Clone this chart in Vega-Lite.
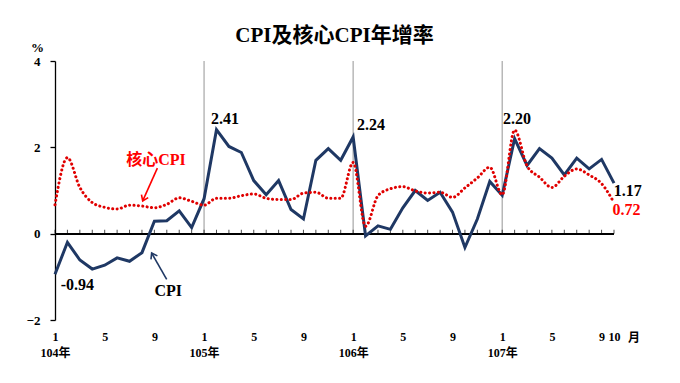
{
  "$schema": "https://vega.github.io/schema/vega-lite/v6.json",
  "autosize": "none",
  "width": 559,
  "height": 259,
  "padding": {"left": 55, "top": 61, "right": 66, "bottom": 63},
  "background": "white",
  "title": {
    "text": "CPI及核心CPI年增率",
    "font": "Liberation Serif, Noto Sans CJK TC",
    "fontSize": 21,
    "fontWeight": "bold",
    "color": "black",
    "anchor": "middle",
    "frame": "group",
    "baseline": "alphabetic",
    "offset": -22
  },
  "config": {
    "view": {"stroke": null},
    "font": "Liberation Serif, Noto Sans CJK TC"
  },
  "datasets": {
    "main": [
      {"t": 0, "year": 104, "month": 1, "cpi": -0.94, "core": 0.67},
      {"t": 1, "year": 104, "month": 2, "cpi": -0.20, "core": 1.76},
      {"t": 2, "year": 104, "month": 3, "cpi": -0.61, "core": 1.07},
      {"t": 3, "year": 104, "month": 4, "cpi": -0.82, "core": 0.72},
      {"t": 4, "year": 104, "month": 5, "cpi": -0.73, "core": 0.61},
      {"t": 5, "year": 104, "month": 6, "cpi": -0.56, "core": 0.57},
      {"t": 6, "year": 104, "month": 7, "cpi": -0.64, "core": 0.66},
      {"t": 7, "year": 104, "month": 8, "cpi": -0.44, "core": 0.64},
      {"t": 8, "year": 104, "month": 9, "cpi": 0.29, "core": 0.60},
      {"t": 9, "year": 104, "month": 10, "cpi": 0.30, "core": 0.68},
      {"t": 10, "year": 104, "month": 11, "cpi": 0.53, "core": 0.83},
      {"t": 11, "year": 104, "month": 12, "cpi": 0.14, "core": 0.75},
      {"t": 12, "year": 105, "month": 1, "cpi": 0.81, "core": 0.66},
      {"t": 13, "year": 105, "month": 2, "cpi": 2.41, "core": 0.82},
      {"t": 14, "year": 105, "month": 3, "cpi": 2.02, "core": 0.82},
      {"t": 15, "year": 105, "month": 4, "cpi": 1.88, "core": 0.88},
      {"t": 16, "year": 105, "month": 5, "cpi": 1.23, "core": 0.92},
      {"t": 17, "year": 105, "month": 6, "cpi": 0.90, "core": 0.82},
      {"t": 18, "year": 105, "month": 7, "cpi": 1.23, "core": 0.79},
      {"t": 19, "year": 105, "month": 8, "cpi": 0.56, "core": 0.79},
      {"t": 20, "year": 105, "month": 9, "cpi": 0.34, "core": 0.94},
      {"t": 21, "year": 105, "month": 10, "cpi": 1.70, "core": 0.96},
      {"t": 22, "year": 105, "month": 11, "cpi": 1.97, "core": 0.82},
      {"t": 23, "year": 105, "month": 12, "cpi": 1.70, "core": 0.82},
      {"t": 24, "year": 106, "month": 1, "cpi": 2.24, "core": 1.65},
      {"t": 25, "year": 106, "month": 2, "cpi": -0.05, "core": 0.17},
      {"t": 26, "year": 106, "month": 3, "cpi": 0.18, "core": 0.88},
      {"t": 27, "year": 106, "month": 4, "cpi": 0.10, "core": 1.04},
      {"t": 28, "year": 106, "month": 5, "cpi": 0.60, "core": 1.09},
      {"t": 29, "year": 106, "month": 6, "cpi": 1.00, "core": 0.99},
      {"t": 30, "year": 106, "month": 7, "cpi": 0.77, "core": 0.94},
      {"t": 31, "year": 106, "month": 8, "cpi": 0.96, "core": 0.96},
      {"t": 32, "year": 106, "month": 9, "cpi": 0.50, "core": 0.84},
      {"t": 33, "year": 106, "month": 10, "cpi": -0.32, "core": 1.06},
      {"t": 34, "year": 106, "month": 11, "cpi": 0.34, "core": 1.29},
      {"t": 35, "year": 106, "month": 12, "cpi": 1.21, "core": 1.54},
      {"t": 36, "year": 107, "month": 1, "cpi": 0.89, "core": 0.90},
      {"t": 37, "year": 107, "month": 2, "cpi": 2.20, "core": 2.40},
      {"t": 38, "year": 107, "month": 3, "cpi": 1.58, "core": 1.57},
      {"t": 39, "year": 107, "month": 4, "cpi": 1.97, "core": 1.31},
      {"t": 40, "year": 107, "month": 5, "cpi": 1.75, "core": 1.07},
      {"t": 41, "year": 107, "month": 6, "cpi": 1.36, "core": 1.33},
      {"t": 42, "year": 107, "month": 7, "cpi": 1.75, "core": 1.50},
      {"t": 43, "year": 107, "month": 8, "cpi": 1.50, "core": 1.36},
      {"t": 44, "year": 107, "month": 9, "cpi": 1.72, "core": 1.16},
      {"t": 45, "year": 107, "month": 10, "cpi": 1.17, "core": 0.72}
    ],
    "years": [
      {"t": 12, "year": "105年"},
      {"t": 24, "year": "106年"},
      {"t": 36, "year": "107年"}
    ],
    "labels": [
      {"t": 1.8, "v": -1.19, "text": "-0.94", "series": "cpi"},
      {"t": 13.69, "v": 2.66, "text": "2.41", "series": "cpi"},
      {"t": 25.44, "v": 2.52, "text": "2.24", "series": "cpi"},
      {"t": 37.2, "v": 2.66, "text": "2.20", "series": "cpi"},
      {"t": 46.1, "v": 0.98, "text": "1.17", "series": "cpi"},
      {"t": 9.12, "v": -1.32, "text": "CPI", "series": "cpi"},
      {"t": 46.0, "v": 0.55, "text": "0.72", "series": "core"},
      {"t": 8.13, "v": 1.71, "text": "核心CPI", "series": "core"}
    ],
    "arrows": [
      {"series": "core", "t1": 8.24, "v1": 1.52, "t2": 7.06, "v2": 0.76},
      {"series": "cpi", "t1": 8.99, "v1": -1.06, "t2": 7.78, "v2": -0.45}
    ],
    "unit": [
      {"t": 46.6, "text": "月"}
    ]
  },
  "layer": [
    {
      "data": {"name": "years"},
      "mark": {"type": "rule", "color": "#A6A6A6", "strokeWidth": 1.2},
      "encoding": {
        "x": {
          "field": "t", "type": "quantitative",
          "scale": {"domain": [0, 45], "nice": false, "zero": false},
          "axis": {
            "values": [0, 4, 8, 12, 16, 20, 24, 28, 32, 36, 40, 44, 45],
            "labelExpr": "datum.value == 45 ? '10' : (datum.value % 12 == 0 ? ['1', (104 + datum.value / 12) + '年'] : '' + (datum.value % 12 + 1))",
            "title": null,
            "domain": false,
            "ticks": false,
            "tickSize": 0,
            "grid": false,
            "labelPadding": 11,
            "labelFont": "Liberation Serif, Noto Sans CJK TC",
            "labelFontSize": 12,
            "labelFontWeight": "bold",
            "labelColor": "black",
            "labelLineHeight": 16,
            "labelOverlap": false,
            "labelFlush": false,
            "labelBound": false
          }
        },
        "y": {
          "datum": 0, "type": "quantitative",
          "scale": {"domain": [-2, 4], "nice": false},
          "axis": {
            "values": [-2, 0, 2, 4],
            "title": "%",
            "titleAngle": 0,
            "titleAlign": "center",
            "titleBaseline": "middle",
            "titleX": -18,
            "titleY": -14,
            "titleFont": "Liberation Serif",
            "titleFontSize": 13,
            "titleFontWeight": "bold",
            "titleColor": "black",
            "grid": false,
            "domainColor": "black",
            "domainWidth": 1.3,
            "tickColor": "black",
            "tickSize": 5,
            "tickWidth": 1.3,
            "labelPadding": 10,
            "labelFont": "Liberation Serif",
            "labelFontSize": 13,
            "labelFontWeight": "bold",
            "labelColor": "black"
          }
        },
        "y2": {"datum": 4}
      }
    },
    {
      "data": {"name": "main"},
      "mark": {"type": "rule", "color": "black", "strokeWidth": 1.3},
      "encoding": {
        "y": {"datum": 0, "type": "quantitative", "scale": {"domain": [-2, 4], "nice": false}}
      }
    },
    {
      "data": {"name": "main"},
      "mark": {"type": "tick", "orient": "vertical", "color": "black", "size": 4, "thickness": 1, "yOffset": -2},
      "encoding": {
        "x": {"field": "t", "type": "quantitative", "scale": {"domain": [0, 45], "nice": false, "zero": false}},
        "y": {"datum": 0, "type": "quantitative", "scale": {"domain": [-2, 4], "nice": false}}
      }
    },
    {
      "data": {"name": "main"},
      "mark": {"type": "line", "color": "#1F3864", "strokeWidth": 3, "strokeJoin": "miter"},
      "encoding": {
        "x": {"field": "t", "type": "quantitative", "scale": {"domain": [0, 45], "nice": false, "zero": false}},
        "y": {"field": "cpi", "type": "quantitative", "scale": {"domain": [-2, 4], "nice": false}}
      }
    },
    {
      "data": {"name": "main"},
      "mark": {"type": "line", "color": "#E00000", "strokeWidth": 3, "strokeDash": [0.1, 4.3], "strokeCap": "round", "interpolate": "monotone"},
      "encoding": {
        "x": {"field": "t", "type": "quantitative", "scale": {"domain": [0, 45], "nice": false, "zero": false}},
        "y": {"field": "core", "type": "quantitative", "scale": {"domain": [-2, 4], "nice": false}}
      }
    },
    {
      "data": {"name": "arrows"},
      "transform": [{"filter": "datum.series == 'core'"}],
      "mark": {"type": "rule", "color": "#FF0000", "strokeWidth": 1.6},
      "encoding": {
        "x": {"field": "t1", "type": "quantitative", "scale": {"domain": [0, 45], "nice": false, "zero": false}},
        "y": {"field": "v1", "type": "quantitative", "scale": {"domain": [-2, 4], "nice": false}},
        "x2": {"field": "t2"},
        "y2": {"field": "v2"}
      }
    },
    {
      "data": {"name": "arrows"},
      "transform": [{"filter": "datum.series == 'core'"}],
      "mark": {"type": "point", "shape": "M-0.7,1L0,0L0.7,1", "filled": false, "color": "#FF0000", "strokeWidth": 1.6, "size": 110, "angle": 204, "opacity": 1},
      "encoding": {
        "x": {"field": "t2", "type": "quantitative", "scale": {"domain": [0, 45], "nice": false, "zero": false}},
        "y": {"field": "v2", "type": "quantitative", "scale": {"domain": [-2, 4], "nice": false}}
      }
    },
    {
      "data": {"name": "arrows"},
      "transform": [{"filter": "datum.series == 'cpi'"}],
      "mark": {"type": "rule", "color": "#1F3864", "strokeWidth": 1.6},
      "encoding": {
        "x": {"field": "t1", "type": "quantitative", "scale": {"domain": [0, 45], "nice": false, "zero": false}},
        "y": {"field": "v1", "type": "quantitative", "scale": {"domain": [-2, 4], "nice": false}},
        "x2": {"field": "t2"},
        "y2": {"field": "v2"}
      }
    },
    {
      "data": {"name": "arrows"},
      "transform": [{"filter": "datum.series == 'cpi'"}],
      "mark": {"type": "point", "shape": "M-0.7,1L0,0L0.7,1", "filled": false, "color": "#1F3864", "strokeWidth": 1.6, "size": 110, "angle": 331, "opacity": 1},
      "encoding": {
        "x": {"field": "t2", "type": "quantitative", "scale": {"domain": [0, 45], "nice": false, "zero": false}},
        "y": {"field": "v2", "type": "quantitative", "scale": {"domain": [-2, 4], "nice": false}}
      }
    },
    {
      "data": {"name": "labels"},
      "transform": [{"filter": "datum.series == 'cpi'"}],
      "mark": {"type": "text", "color": "black", "font": "Liberation Serif, Noto Sans CJK TC", "fontSize": 16, "fontWeight": "bold", "align": "center", "baseline": "middle"},
      "encoding": {
        "x": {"field": "t", "type": "quantitative", "scale": {"domain": [0, 45], "nice": false, "zero": false}},
        "y": {"field": "v", "type": "quantitative", "scale": {"domain": [-2, 4], "nice": false}},
        "text": {"field": "text"}
      }
    },
    {
      "data": {"name": "labels"},
      "transform": [{"filter": "datum.series == 'core'"}],
      "mark": {"type": "text", "color": "#FF0000", "font": "Liberation Serif, Noto Sans CJK TC", "fontSize": 16, "fontWeight": "bold", "align": "center", "baseline": "middle"},
      "encoding": {
        "x": {"field": "t", "type": "quantitative", "scale": {"domain": [0, 45], "nice": false, "zero": false}},
        "y": {"field": "v", "type": "quantitative", "scale": {"domain": [-2, 4], "nice": false}},
        "text": {"field": "text"}
      }
    },
    {
      "data": {"name": "unit"},
      "mark": {"type": "text", "color": "black", "font": "Noto Sans CJK TC", "fontSize": 12, "fontWeight": "bold", "align": "center", "baseline": "middle", "dy": 18},
      "encoding": {
        "x": {"field": "t", "type": "quantitative", "scale": {"domain": [0, 45], "nice": false, "zero": false}},
        "y": {"datum": -2, "type": "quantitative", "scale": {"domain": [-2, 4], "nice": false}},
        "text": {"field": "text"}
      }
    }
  ]
}
